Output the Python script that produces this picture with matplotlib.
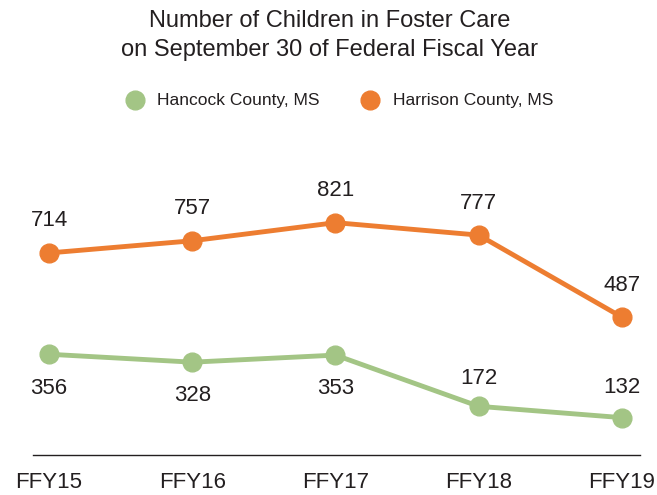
#!/usr/bin/env python3
"""Number of children in foster care, Hancock vs Harrison County, MS."""

import matplotlib
matplotlib.use("Agg")
import matplotlib.pyplot as plt

years = ["FFY15", "FFY16", "FFY17", "FFY18", "FFY19"]
hancock = [356, 328, 353, 172, 132]
harrison = [714, 757, 821, 777, 487]

GREEN = "#a3c585"
ORANGE = "#ed7d31"
TEXT = "#231f20"

# no condensed Helvetica here, Liberation Sans is the closest narrow-ish face
plt.rcParams['font.family'] = ['Liberation Sans', 'DejaVu Sans']

fig = plt.figure(figsize=(6.57, 4.95), dpi=100)
ax = fig.add_axes([33 / 657, 40 / 495, 607 / 657, 283 / 495])

x = list(range(len(years)))
ax.plot(x, harrison, color=ORANGE, lw=3.5, marker='o', ms=13.5, zorder=3)
ax.plot(x, hancock, color=GREEN, lw=3.5, marker='o', ms=13.5, zorder=3)

# data labels: orange above, green below except the last two
for i, v in enumerate(harrison):
    ax.annotate(str(v), (i, v), xytext=(0, 23), textcoords='offset points',
                ha='center', va='center', fontsize=16, color=TEXT)
green_off = [-25, -24, -24, 20, 22]
for i, v in enumerate(hancock):
    ax.annotate(str(v), (i, v), xytext=(0, green_off[i]), textcoords='offset points',
                ha='center', va='center', fontsize=16, color=TEXT)

ax.set_xlim(-0.112, 4.126)
ax.set_ylim(0, 1000)
ax.set_xticks(x)
ax.set_xticklabels(years, fontsize=16, color=TEXT)
ax.tick_params(axis='x', length=0, pad=12)
ax.set_yticks([])
for side in ['top', 'right', 'left']:
    ax.spines[side].set_visible(False)
ax.spines['bottom'].set_color(TEXT)
ax.spines['bottom'].set_linewidth(1)

# title, two lines
fig.text(0.502, 1 - 21 / 495, "Number of Children in Foster Care",
         ha='center', va='center', fontsize=17, color=TEXT)
fig.text(0.502, 1 - 50 / 495, "on September 30 of Federal Fiscal Year",
         ha='center', va='center', fontsize=17, color=TEXT)

# legend
ly = 1 - 100 / 495
fig.lines.append(plt.Line2D([135 / 657], [ly], marker='o', ms=13.5, color=GREEN,
                            transform=fig.transFigure, figure=fig))
fig.lines.append(plt.Line2D([370 / 657], [ly], marker='o', ms=13.5, color=ORANGE,
                            transform=fig.transFigure, figure=fig))
fig.text(157 / 657, ly, "Hancock County, MS", ha='left', va='center', fontsize=12.5, color=TEXT)
fig.text(393 / 657, ly, "Harrison County, MS", ha='left', va='center', fontsize=12.5, color=TEXT)

fig.savefig("out.png", dpi=100)
